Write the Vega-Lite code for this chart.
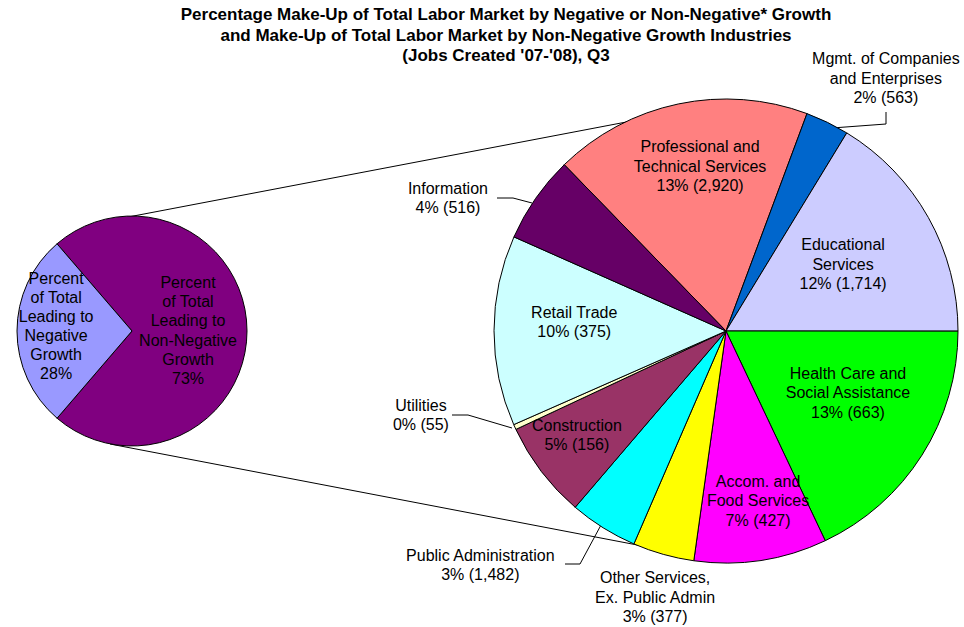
{
  "$schema": "https://vega.github.io/schema/vega-lite/v6.json",
  "width": 964,
  "height": 572,
  "autosize": {"type": "none"},
  "padding": {"left": 0, "right": 0, "top": 45, "bottom": 10},
  "background": "white",
  "config": {"view": {"stroke": null}},
  "title": {
    "text": ["Percentage Make-Up of Total Labor Market by Negative or Non-Negative* Growth", "and Make-Up of Total Labor Market by Non-Negative Growth Industries", "(Jobs Created '07-'08), Q3"],
    "font": "Liberation Sans", "fontSize": 17, "fontWeight": "bold", "lineHeight": 20.5, "color": "black",
    "anchor": "middle", "dx": 24, "offset": -91
  },
  "datasets": {
    "overall": [
      {"pie": "Total Labor Market", "key": "nonneg", "name": "Percent of Total Leading to Non-Negative Growth", "share": 72.6, "ord": 1, "label": ["Percent", "of Total", "Leading to", "Non-Negative", "Growth", "73%"]},
      {"pie": "Total Labor Market", "key": "neg", "name": "Percent of Total Leading to Negative Growth", "share": 27.4, "ord": 2, "label": ["Percent", "of Total", "Leading to", "Negative", "Growth", "28%"]}
    ],
    "industries": [
      {"pie": "Non-Negative Growth Industries", "key": "prof", "name": "Professional and Technical Services", "share": 13.0, "jobs": 2920, "ord": 1, "label": ["Professional and", "Technical Services", "13% (2,920)"]},
      {"pie": "Non-Negative Growth Industries", "key": "mgmt", "name": "Mgmt. of Companies and Enterprises", "share": 2.2, "jobs": 563, "ord": 2, "label": ["Mgmt. of Companies", "and Enterprises", "2% (563)"]},
      {"pie": "Non-Negative Growth Industries", "key": "edu", "name": "Educational Services", "share": 11.8, "jobs": 1714, "ord": 3, "label": ["Educational", "Services", "12% (1,714)"]},
      {"pie": "Non-Negative Growth Industries", "key": "health", "name": "Health Care and Social Assistance", "share": 13.0, "jobs": 663, "ord": 4, "label": ["Health Care and", "Social Assistance", "13% (663)"]},
      {"pie": "Non-Negative Growth Industries", "key": "accom", "name": "Accom. and Food Services", "share": 6.7, "jobs": 427, "ord": 5, "label": ["Accom. and", "Food Services", "7% (427)"]},
      {"pie": "Non-Negative Growth Industries", "key": "other", "name": "Other Services, Ex. Public Admin", "share": 3.1, "jobs": 377, "ord": 6, "label": ["Other Services,", "Ex. Public Admin", "3% (377)"]},
      {"pie": "Non-Negative Growth Industries", "key": "public", "name": "Public Administration", "share": 3.45, "jobs": 1482, "ord": 7, "label": ["Public Administration", "3% (1,482)"]},
      {"pie": "Non-Negative Growth Industries", "key": "constr", "name": "Construction", "share": 4.9, "jobs": 156, "ord": 8, "label": ["Construction", "5% (156)"]},
      {"pie": "Non-Negative Growth Industries", "key": "util", "name": "Utilities", "share": 0.26, "jobs": 55, "ord": 9, "label": ["Utilities", "0% (55)"]},
      {"pie": "Non-Negative Growth Industries", "key": "retail", "name": "Retail Trade", "share": 9.6, "jobs": 375, "ord": 10, "label": ["Retail Trade", "10% (375)"]},
      {"pie": "Non-Negative Growth Industries", "key": "info", "name": "Information", "share": 4.4, "jobs": 516, "ord": 11, "label": ["Information", "4% (516)"]}
    ],
    "connector": [
      {"from": "Total Labor Market", "to": "Non-Negative Growth Industries", "segment": "Percent of Total Leading to Non-Negative Growth"}
    ]
  },
  "resolve": {"scale": {"theta": "independent"}},
  "layer": [
    {
      "data": {"name": "connector"},
      "mark": {"type": "rule", "color": "black", "strokeWidth": 1, "xOffset": -9, "yOffset": -113, "x2Offset": -21, "y2Offset": -224},
      "encoding": {
        "x": {"field": "from", "type": "nominal", "scale": {"type": "point", "domain": ["Total Labor Market", "Non-Negative Growth Industries"], "padding": 0.31145, "align": 0.35676}, "axis": null},
        "x2": {"field": "to"},
        "y": {"datum": 0, "type": "quantitative", "scale": {"domain": [-1, 1]}, "axis": null},
        "y2": {"datum": 0}
      }
    },
    {
      "data": {"name": "connector"},
      "mark": {"type": "rule", "color": "black", "strokeWidth": 1, "xOffset": -22, "yOffset": 113, "x2Offset": -26, "y2Offset": 226},
      "encoding": {
        "x": {"field": "from", "type": "nominal", "axis": null},
        "x2": {"field": "to"},
        "y": {"datum": 0, "type": "quantitative", "axis": null},
        "y2": {"datum": 0}
      }
    },
    {
      "data": {"name": "industries"},
      "transform": [{"filter": "datum.key === 'info'"}],
      "mark": {"type": "rule", "color": "black", "strokeWidth": 1, "xOffset": -229, "yOffset": -133, "x2Offset": -213, "y2Offset": -133},
      "encoding": {"x": {"field": "pie", "type": "nominal", "axis": null}, "x2": {"field": "pie"}, "y": {"datum": 0, "type": "quantitative", "axis": null}, "y2": {"datum": 0}}
    },
    {
      "data": {"name": "industries"},
      "transform": [{"filter": "datum.key === 'info'"}],
      "mark": {"type": "rule", "color": "black", "strokeWidth": 1, "xOffset": -213, "yOffset": -133, "x2Offset": -194, "y2Offset": -128},
      "encoding": {"x": {"field": "pie", "type": "nominal", "axis": null}, "x2": {"field": "pie"}, "y": {"datum": 0, "type": "quantitative", "axis": null}, "y2": {"datum": 0}}
    },
    {
      "data": {"name": "industries"},
      "transform": [{"filter": "datum.key === 'mgmt'"}],
      "mark": {"type": "rule", "color": "black", "strokeWidth": 1, "xOffset": 160, "yOffset": -219, "x2Offset": 160, "y2Offset": -207},
      "encoding": {"x": {"field": "pie", "type": "nominal", "axis": null}, "x2": {"field": "pie"}, "y": {"datum": 0, "type": "quantitative", "axis": null}, "y2": {"datum": 0}}
    },
    {
      "data": {"name": "industries"},
      "transform": [{"filter": "datum.key === 'mgmt'"}],
      "mark": {"type": "rule", "color": "black", "strokeWidth": 1, "xOffset": 160, "yOffset": -207, "x2Offset": 106, "y2Offset": -203},
      "encoding": {"x": {"field": "pie", "type": "nominal", "axis": null}, "x2": {"field": "pie"}, "y": {"datum": 0, "type": "quantitative", "axis": null}, "y2": {"datum": 0}}
    },
    {
      "data": {"name": "industries"},
      "transform": [{"filter": "datum.key === 'util'"}],
      "mark": {"type": "rule", "color": "black", "strokeWidth": 1, "xOffset": -274, "yOffset": 84, "x2Offset": -258, "y2Offset": 84},
      "encoding": {"x": {"field": "pie", "type": "nominal", "axis": null}, "x2": {"field": "pie"}, "y": {"datum": 0, "type": "quantitative", "axis": null}, "y2": {"datum": 0}}
    },
    {
      "data": {"name": "industries"},
      "transform": [{"filter": "datum.key === 'util'"}],
      "mark": {"type": "rule", "color": "black", "strokeWidth": 1, "xOffset": -258, "yOffset": 84, "x2Offset": -214, "y2Offset": 97},
      "encoding": {"x": {"field": "pie", "type": "nominal", "axis": null}, "x2": {"field": "pie"}, "y": {"datum": 0, "type": "quantitative", "axis": null}, "y2": {"datum": 0}}
    },
    {
      "data": {"name": "industries"},
      "transform": [{"filter": "datum.key === 'public'"}],
      "mark": {"type": "rule", "color": "black", "strokeWidth": 1, "xOffset": -161, "yOffset": 233, "x2Offset": -146, "y2Offset": 233},
      "encoding": {"x": {"field": "pie", "type": "nominal", "axis": null}, "x2": {"field": "pie"}, "y": {"datum": 0, "type": "quantitative", "axis": null}, "y2": {"datum": 0}}
    },
    {
      "data": {"name": "industries"},
      "transform": [{"filter": "datum.key === 'public'"}],
      "mark": {"type": "rule", "color": "black", "strokeWidth": 1, "xOffset": -146, "yOffset": 233, "x2Offset": -125, "y2Offset": 194},
      "encoding": {"x": {"field": "pie", "type": "nominal", "axis": null}, "x2": {"field": "pie"}, "y": {"datum": 0, "type": "quantitative", "axis": null}, "y2": {"datum": 0}}
    },
    {
      "data": {"name": "overall"},
      "mark": {"type": "arc", "outerRadius": 115, "stroke": "black", "strokeWidth": 1},
      "encoding": {
        "x": {"field": "pie", "type": "nominal", "axis": null},
        "theta": {"field": "share", "type": "quantitative", "stack": true, "scale": {"range": [-0.7103, 5.5729]}},
        "order": {"field": "ord"},
        "color": {"field": "name", "type": "nominal", "legend": null,
          "scale": {
            "domain": ["Percent of Total Leading to Non-Negative Growth", "Percent of Total Leading to Negative Growth", "Professional and Technical Services", "Mgmt. of Companies and Enterprises", "Educational Services", "Health Care and Social Assistance", "Accom. and Food Services", "Other Services, Ex. Public Admin", "Public Administration", "Construction", "Utilities", "Retail Trade", "Information"],
            "range": ["#800080", "#9999FF", "#FF8080", "#0066CC", "#CCCCFF", "#00FF00", "#FF00FF", "#FFFF00", "#00FFFF", "#993366", "#FFFFCC", "#CCFFFF", "#660066"]
          }
        }
      }
    },
    {
      "data": {"name": "industries"},
      "mark": {"type": "arc", "outerRadius": 232, "stroke": "black", "strokeWidth": 1},
      "encoding": {
        "x": {"field": "pie", "type": "nominal", "axis": null},
        "theta": {"field": "share", "type": "quantitative", "stack": true, "scale": {"range": [-0.7714, 5.5118]}},
        "order": {"field": "ord"},
        "color": {"field": "name", "type": "nominal", "legend": null}
      }
    },
    {
      "data": {"name": "overall"},
      "mark": {"type": "text", "radius": 56, "dy": -48, "font": "Liberation Sans", "fontSize": 16, "lineHeight": 19.2, "align": "center", "baseline": "middle", "fill": "black"},
      "encoding": {
        "x": {"field": "pie", "type": "nominal", "axis": null},
        "theta": {"field": "share", "type": "quantitative", "stack": true, "scale": {"range": [-0.7103, 5.5729]}},
        "order": {"field": "ord"},
        "text": {"condition": {"test": "datum.key === 'nonneg'", "field": "label", "type": "nominal"}, "value": ""}
      }
    },
    {
      "data": {"name": "overall"},
      "mark": {"type": "text", "radius": 76, "dy": -47.5, "font": "Liberation Sans", "fontSize": 16, "lineHeight": 19, "align": "center", "baseline": "middle", "fill": "black"},
      "encoding": {
        "x": {"field": "pie", "type": "nominal", "axis": null},
        "theta": {"field": "share", "type": "quantitative", "stack": true, "scale": {"range": [-0.6513, 5.6319]}},
        "order": {"field": "ord"},
        "text": {"condition": {"test": "datum.key === 'neg'", "field": "label", "type": "nominal"}, "value": ""}
      }
    },
    {
      "data": {"name": "industries"},
      "mark": {"type": "text", "radius": 166.5, "dy": -19.5, "font": "Liberation Sans", "fontSize": 16, "lineHeight": 19.5, "align": "center", "baseline": "middle", "fill": "black"},
      "encoding": {
        "x": {"field": "pie", "type": "nominal", "axis": null},
        "theta": {"field": "share", "type": "quantitative", "stack": true, "scale": {"range": [-0.7204, 5.5628]}},
        "order": {"field": "ord"},
        "text": {"condition": {"test": "datum.key === 'prof'", "field": "label", "type": "nominal"}, "value": ""}
      }
    },
    {
      "data": {"name": "industries"},
      "mark": {"type": "text", "radius": 298.5, "dy": -19.5, "font": "Liberation Sans", "fontSize": 16, "lineHeight": 19.5, "align": "center", "baseline": "middle", "fill": "black"},
      "encoding": {
        "x": {"field": "pie", "type": "nominal", "axis": null},
        "theta": {"field": "share", "type": "quantitative", "stack": true, "scale": {"range": [-0.6584, 5.6248]}},
        "order": {"field": "ord"},
        "text": {"condition": {"test": "datum.key === 'mgmt'", "field": "label", "type": "nominal"}, "value": ""}
      }
    },
    {
      "data": {"name": "industries"},
      "mark": {"type": "text", "radius": 134.6, "dy": -19.5, "font": "Liberation Sans", "fontSize": 16, "lineHeight": 19.5, "align": "center", "baseline": "middle", "fill": "black"},
      "encoding": {
        "x": {"field": "pie", "type": "nominal", "axis": null},
        "theta": {"field": "share", "type": "quantitative", "stack": true, "scale": {"range": [-0.7764, 5.5068]}},
        "order": {"field": "ord"},
        "text": {"condition": {"test": "datum.key === 'edu'", "field": "label", "type": "nominal"}, "value": ""}
      }
    },
    {
      "data": {"name": "industries"},
      "mark": {"type": "text", "radius": 137, "dy": -19.5, "font": "Liberation Sans", "fontSize": 16, "lineHeight": 19.5, "align": "center", "baseline": "middle", "fill": "black"},
      "encoding": {
        "x": {"field": "pie", "type": "nominal", "axis": null},
        "theta": {"field": "share", "type": "quantitative", "stack": true, "scale": {"range": [-0.8634, 5.4198]}},
        "order": {"field": "ord"},
        "text": {"condition": {"test": "datum.key === 'health'", "field": "label", "type": "nominal"}, "value": ""}
      }
    },
    {
      "data": {"name": "industries"},
      "mark": {"type": "text", "radius": 173, "dy": -19.5, "font": "Liberation Sans", "fontSize": 16, "lineHeight": 19.5, "align": "center", "baseline": "middle", "fill": "black"},
      "encoding": {
        "x": {"field": "pie", "type": "nominal", "axis": null},
        "theta": {"field": "share", "type": "quantitative", "stack": true, "scale": {"range": [-0.8064, 5.4768]}},
        "order": {"field": "ord"},
        "text": {"condition": {"test": "datum.key === 'accom'", "field": "label", "type": "nominal"}, "value": ""}
      }
    },
    {
      "data": {"name": "industries"},
      "mark": {"type": "text", "radius": 276, "dy": -19.5, "font": "Liberation Sans", "fontSize": 16, "lineHeight": 19.5, "align": "center", "baseline": "middle", "fill": "black"},
      "encoding": {
        "x": {"field": "pie", "type": "nominal", "axis": null},
        "theta": {"field": "share", "type": "quantitative", "stack": true, "scale": {"range": [-0.7854, 5.4978]}},
        "order": {"field": "ord"},
        "text": {"condition": {"test": "datum.key === 'other'", "field": "label", "type": "nominal"}, "value": ""}
      }
    },
    {
      "data": {"name": "industries"},
      "mark": {"type": "text", "radius": 339.5, "dy": -9.75, "font": "Liberation Sans", "fontSize": 16, "lineHeight": 19.5, "align": "center", "baseline": "middle", "fill": "black"},
      "encoding": {
        "x": {"field": "pie", "type": "nominal", "axis": null},
        "theta": {"field": "share", "type": "quantitative", "stack": true, "scale": {"range": [-0.5204, 5.7628]}},
        "order": {"field": "ord"},
        "text": {"condition": {"test": "datum.key === 'public'", "field": "label", "type": "nominal"}, "value": ""}
      }
    },
    {
      "data": {"name": "industries"},
      "mark": {"type": "text", "radius": 182, "dy": -9.75, "font": "Liberation Sans", "fontSize": 16, "lineHeight": 19.5, "align": "center", "baseline": "middle", "fill": "black"},
      "encoding": {
        "x": {"field": "pie", "type": "nominal", "axis": null},
        "theta": {"field": "share", "type": "quantitative", "stack": true, "scale": {"range": [-0.7314, 5.5518]}},
        "order": {"field": "ord"},
        "text": {"condition": {"test": "datum.key === 'constr'", "field": "label", "type": "nominal"}, "value": ""}
      }
    },
    {
      "data": {"name": "industries"},
      "mark": {"type": "text", "radius": 316.5, "dy": -9.75, "font": "Liberation Sans", "fontSize": 16, "lineHeight": 19.5, "align": "center", "baseline": "middle", "fill": "black"},
      "encoding": {
        "x": {"field": "pie", "type": "nominal", "axis": null},
        "theta": {"field": "share", "type": "quantitative", "stack": true, "scale": {"range": [-0.6144, 5.6688]}},
        "order": {"field": "ord"},
        "text": {"condition": {"test": "datum.key === 'util'", "field": "label", "type": "nominal"}, "value": ""}
      }
    },
    {
      "data": {"name": "industries"},
      "mark": {"type": "text", "radius": 152, "dy": -9.75, "font": "Liberation Sans", "fontSize": 16, "lineHeight": 19.5, "align": "center", "baseline": "middle", "fill": "black"},
      "encoding": {
        "x": {"field": "pie", "type": "nominal", "axis": null},
        "theta": {"field": "share", "type": "quantitative", "stack": true, "scale": {"range": [-0.7154, 5.5678]}},
        "order": {"field": "ord"},
        "text": {"condition": {"test": "datum.key === 'retail'", "field": "label", "type": "nominal"}, "value": ""}
      }
    },
    {
      "data": {"name": "industries"},
      "mark": {"type": "text", "radius": 308, "dy": -9.75, "font": "Liberation Sans", "fontSize": 16, "lineHeight": 19.5, "align": "center", "baseline": "middle", "fill": "black"},
      "encoding": {
        "x": {"field": "pie", "type": "nominal", "axis": null},
        "theta": {"field": "share", "type": "quantitative", "stack": true, "scale": {"range": [-0.9354, 5.3478]}},
        "order": {"field": "ord"},
        "text": {"condition": {"test": "datum.key === 'info'", "field": "label", "type": "nominal"}, "value": ""}
      }
    }
  ]
}
